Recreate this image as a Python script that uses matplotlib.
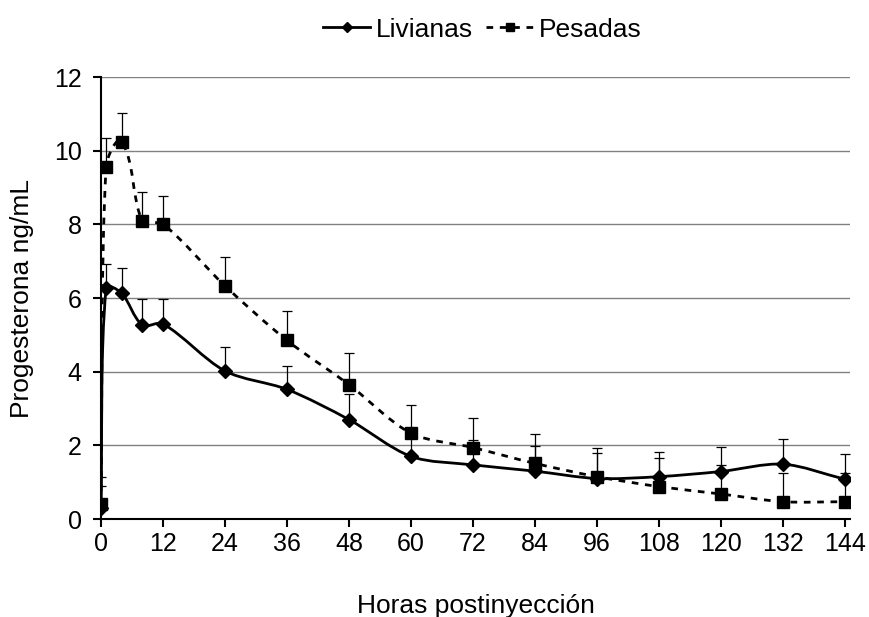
import matplotlib
matplotlib.use("Agg")
import matplotlib.pyplot as plt
import numpy as np
from matplotlib.path import Path
from matplotlib.patches import PathPatch
from matplotlib.lines import Line2D

plt.rcParams["font.family"] = ["Liberation Sans", "DejaVu Sans"]

horas = [0, 1, 4, 8, 12, 24, 36, 48, 60, 72, 84, 96, 108, 120, 132, 144]
livianas = [0.30, 6.28, 6.13, 5.27, 5.30, 4.02, 3.52, 2.70, 1.70, 1.47, 1.30, 1.10, 1.15, 1.29, 1.49, 1.08]
livianas_ee = [0.60, 0.65, 0.68, 0.70, 0.67, 0.66, 0.63, 0.70, 0.66, 0.68, 0.69, 0.70, 0.68, 0.67, 0.68, 0.68]
pesadas = [0.40, 9.57, 10.24, 8.10, 8.01, 6.33, 4.85, 3.65, 2.33, 1.94, 1.51, 1.15, 0.88, 0.68, 0.47, 0.47]
pesadas_ee = [0.75, 0.78, 0.78, 0.78, 0.77, 0.77, 0.80, 0.85, 0.77, 0.80, 0.79, 0.79, 0.79, 0.79, 0.79, 0.79]

XMAX, YMAX = 145, 12


def smooth_path(x, y, sx, sy):
    # smoothed polyline: tangent follows the neighbours, handle length
    # follows each segment's own length (measured in scaled units)
    pts = np.column_stack([np.asarray(x) * sx, np.asarray(y) * sy]).astype(float)
    n = len(pts)
    verts = [pts[0]]
    codes = [Path.MOVETO]
    k = 0.3

    def tangent(i):
        a = pts[max(i - 1, 0)]
        b = pts[min(i + 1, n - 1)]
        d = b - a
        return d / np.hypot(*d)

    for i in range(n - 1):
        p1, p2 = pts[i], pts[i + 1]
        L = np.hypot(*(p2 - p1))
        c1 = p1 + tangent(i) * L * k
        c2 = p2 - tangent(i + 1) * L * k
        verts += [c1, c2, p2]
        codes += [Path.CURVE4] * 3
    verts = np.array(verts) / [sx, sy]
    return Path(verts, codes)


fig = plt.figure(figsize=(8.69, 6.17), dpi=100)
ax = fig.add_axes([0.1162, 0.1588, 0.862, 0.7164])
sx = 0.862 * 869 / XMAX
sy = 0.7164 * 617 / YMAX

dashed = (0, (2.4, 2.4))
for serie, ee, marker, ms, ls in [
    (livianas, livianas_ee, "D", 7.0, "-"),
    (pesadas, pesadas_ee, "s", 9.3, dashed),
]:
    ax.errorbar(horas, serie, yerr=[np.zeros(len(ee)), ee], fmt="none",
                ecolor="black", elinewidth=0.9, capsize=3.8, capthick=0.9,
                zorder=3)
    ax.add_patch(PathPatch(smooth_path(horas, serie, sx, sy), facecolor="none",
                           edgecolor="black", lw=2.0, linestyle=ls, zorder=4))
    ax.plot(horas, serie, linestyle="none", marker=marker, ms=ms,
            color="black", zorder=5)

ax.set_xlim(0, XMAX)
ax.set_ylim(0, YMAX)
ax.set_xticks(range(0, 145, 12))
ax.set_yticks(range(0, 13, 2))
ax.yaxis.grid(True, color="#808080", lw=1.0)
ax.set_axisbelow(True)
for s in ["top", "right"]:
    ax.spines[s].set_visible(False)
for s in ["left", "bottom"]:
    ax.spines[s].set_linewidth(1.5)
ax.tick_params(axis="both", labelsize=18, width=1.5, length=6, direction="out")
ax.tick_params(axis="y", pad=8)
ax.set_xlabel("Horas postinyección", fontsize=19, labelpad=27)
ax.set_ylabel("Progesterona ng/mL", fontsize=19, labelpad=14)

handles = [
    Line2D([], [], color="black", lw=2.0, marker="D", ms=5),
    Line2D([], [], color="black", lw=2.0, ls=dashed, marker="s", ms=6),
]
fig.legend(handles, ["Livianas", "Pesadas"], loc="upper center",
           bbox_to_anchor=(0.555, 1.01), ncol=2, frameon=False, fontsize=19,
           handlelength=1.8, handletextpad=0.2, columnspacing=0.5)

fig.savefig("out.png", dpi=100)
